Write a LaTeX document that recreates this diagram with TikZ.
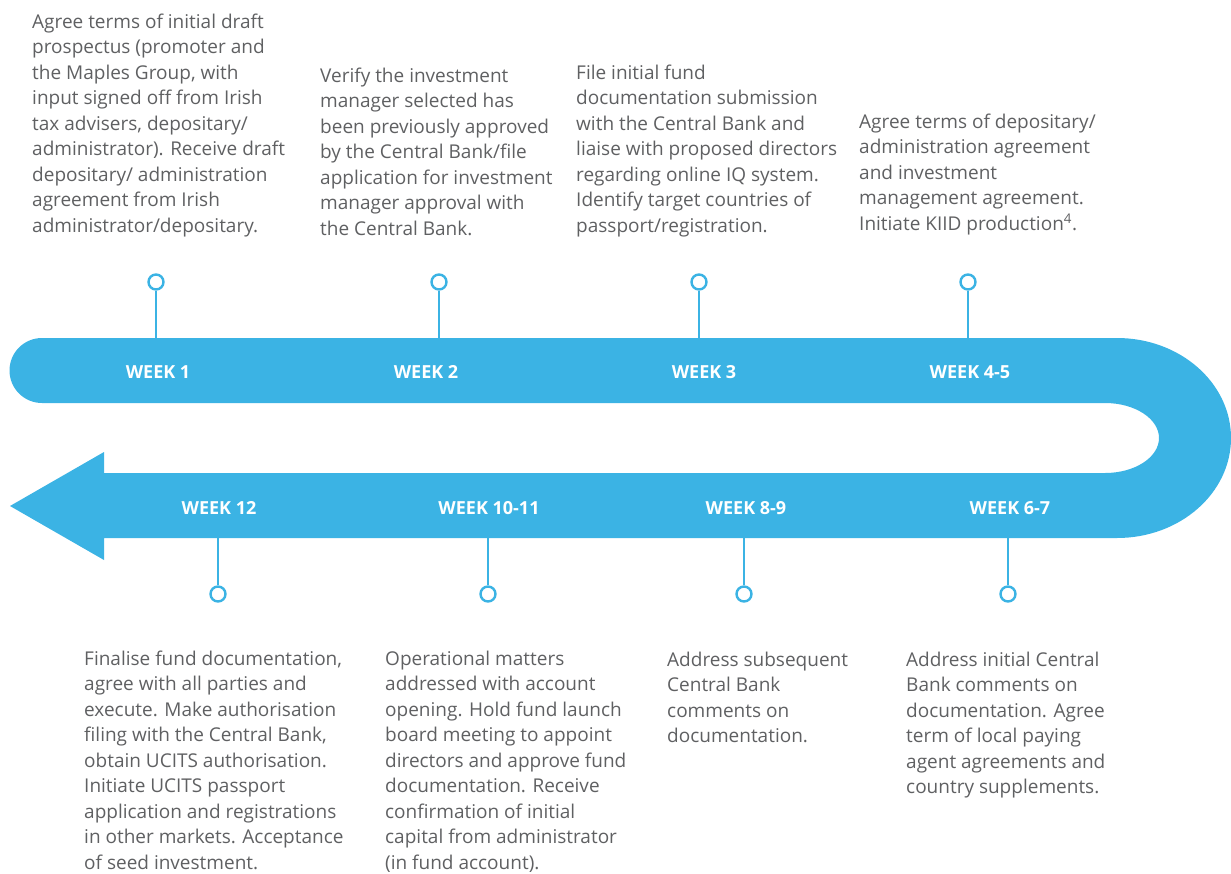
\documentclass[tikz,border=0pt]{standalone}
\usepackage{fontspec}
\setmainfont{Open Sans}
\definecolor{bandblue}{HTML}{3BB3E4}
\definecolor{txtgray}{HTML}{5F6062}
\tikzset{
  band/.style={fill=bandblue, draw=none},
  pin/.style={circle, draw=bandblue, line width=2.4pt, fill=white, minimum size=15pt, inner sep=0pt},
  stem/.style={draw=bandblue, line width=2.4pt},
  weeklbl/.style={text=white, font=\bfseries\fontsize{18}{20}\selectfont, inner sep=0pt, anchor=base},
  desc/.style={text=txtgray, font=\fontsize{19}{25.5}\selectfont, align=left, inner sep=0pt, anchor=base west}
}
\begin{document}
\begin{tikzpicture}[x=1pt,y=-1pt]
\useasboundingbox (0,0) rectangle (1231,873);
% band
\path[band] (42,338) -- (1117,338)
  arc[start angle=90, end angle=-90, x radius=114pt, y radius=100pt]
  -- (104,538) -- (104,560) -- (10,506) -- (104,452) -- (104,473) -- (1105,473)
  arc[start angle=-90, end angle=90, x radius=54pt, y radius=35pt]
  -- (42,403)
  arc[start angle=270, end angle=90, radius=32.5pt] -- cycle;
% week labels
\node[weeklbl] (w1) at (158,378) {WEEK 1};
\node[weeklbl] (w2) at (426,378) {WEEK 2};
\node[weeklbl] (w3) at (704,378) {WEEK 3};
\node[weeklbl] (w45) at (970,378) {WEEK 4-5};
\node[weeklbl] (w12) at (219,514) {WEEK 12};
\node[weeklbl] (w1011) at (489,514) {WEEK 10-11};
\node[weeklbl] (w89) at (746,514) {WEEK 8-9};
\node[weeklbl] (w67) at (1010,514) {WEEK 6-7};
% pins top
\coordinate (b1) at (156,338);
\coordinate (b2) at (439,338);
\coordinate (b3) at (699,338);
\coordinate (b45) at (968,338);
\node[pin] (p1) at (156,282) {};
\node[pin] (p2) at (439,282) {};
\node[pin] (p3) at (699,282) {};
\node[pin] (p45) at (968,282) {};
\draw[stem] (p1) -- (b1);
\draw[stem] (p2) -- (b2);
\draw[stem] (p3) -- (b3);
\draw[stem] (p45) -- (b45);
% pins bottom
\coordinate (b12) at (218,538);
\coordinate (b1011) at (488,538);
\coordinate (b89) at (744,538);
\coordinate (b67) at (1008,538);
\node[pin] (p12) at (218,594) {};
\node[pin] (p1011) at (488,594) {};
\node[pin] (p89) at (744,594) {};
\node[pin] (p67) at (1008,594) {};
\draw[stem] (b12) -- (p12);
\draw[stem] (b1011) -- (p1011);
\draw[stem] (b89) -- (p89);
\draw[stem] (b67) -- (p67);
% descriptions (anchored at the baseline of the last line)
\node[desc] (d1) at (32,232) {Agree terms of initial draft\\prospectus (promoter and\\the Maples Group, with\\input signed off from Irish\\tax advisers, depositary/\\administrator). Receive draft\\depositary/ administration\\agreement from Irish\\administrator/depositary.};
\node[desc] (d2) at (320,235) {Verify the investment\\manager selected has\\been previously approved\\by the Central Bank/file\\application for investment\\manager approval with\\the Central Bank.};
\node[desc] (d3) at (576,232) {File initial fund\\documentation submission\\with the Central Bank and\\liaise with proposed directors\\regarding online IQ system.\\Identify target countries of\\passport/registration.};
\node[desc] (d45) at (859,230) {Agree terms of depositary/\\administration agreement\\and investment\\management agreement.\\Initiate KIID production\textsuperscript{4}.};
\node[desc] (d12) at (84,869) {Finalise fund documentation,\\agree with all parties and\\execute. Make authorisation\\filing with the Central Bank,\\obtain UCITS authorisation.\\Initiate UCITS passport\\application and registrations\\in other markets. Acceptance\\of seed investment.};
\node[desc] (d1011) at (385,869) {Operational matters\\addressed with account\\opening. Hold fund launch\\board meeting to appoint\\directors and approve fund\\documentation. Receive\\confirmation of initial\\capital from administrator\\(in fund account).};
\node[desc] (d89) at (667,742.5) {Address subsequent\\Central Bank\\comments on\\documentation.};
\node[desc] (d67) at (906,793.5) {Address initial Central\\Bank comments on\\documentation. Agree\\term of local paying\\agent agreements and\\country supplements.};
\end{tikzpicture}
\end{document}
